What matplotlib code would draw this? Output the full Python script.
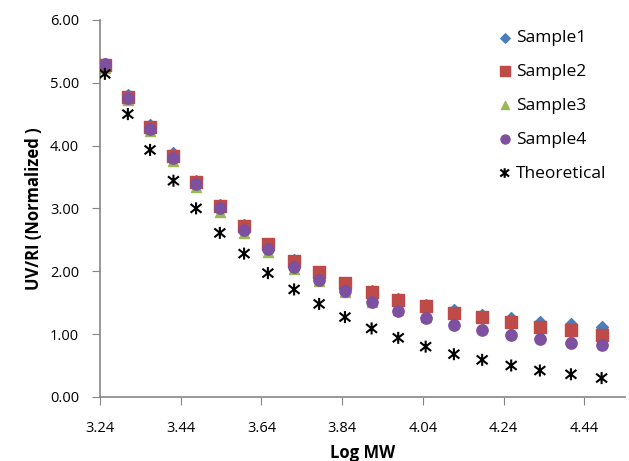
import matplotlib
matplotlib.use("Agg")
import matplotlib.pyplot as plt
from matplotlib.path import Path

plt.rcParams['font.family'] = ['Open Sans', 'DejaVu Sans']

# Log MW positions of the points
log_mw = [3.252, 3.309, 3.364, 3.422, 3.478, 3.537, 3.597, 3.656, 3.721, 3.783,
          3.847, 3.913, 3.979, 4.047, 4.117, 4.187, 4.259, 4.330, 4.407, 4.483]

sample1 = [5.30, 4.80, 4.33, 3.88, 3.44, 3.06, 2.74, 2.44, 2.18, 1.99,
           1.82, 1.68, 1.56, 1.46, 1.38, 1.31, 1.25, 1.20, 1.16, 1.12]
sample2 = [5.28, 4.77, 4.29, 3.83, 3.42, 3.04, 2.72, 2.43, 2.17, 1.98,
           1.81, 1.67, 1.55, 1.44, 1.34, 1.27, 1.19, 1.12, 1.06, 0.99]
sample3 = [5.24, 4.73, 4.23, 3.76, 3.34, 2.95, 2.61, 2.31, 2.04, 1.84,
           1.67, 1.51, 1.38, 1.27, 1.19, 1.12, 1.05, 0.99, 0.94, 0.90]
sample4 = [5.29, 4.76, 4.27, 3.80, 3.38, 3.00, 2.65, 2.35, 2.07, 1.86,
           1.68, 1.51, 1.37, 1.25, 1.15, 1.06, 0.99, 0.92, 0.86, 0.82]
theoretical = [5.14, 4.50, 3.93, 3.44, 3.00, 2.61, 2.28, 1.97, 1.71, 1.48,
               1.27, 1.09, 0.94, 0.80, 0.68, 0.59, 0.50, 0.42, 0.36, 0.30]

xticks = [3.24, 3.44, 3.64, 3.84, 4.04, 4.24, 4.44]
yticks = [0, 1, 2, 3, 4, 5, 6]

# excel style star: x with a vertical bar
star = Path([(-1, -0.8), (1, 0.8), (-1, 0.8), (1, -0.8), (0, -1.1), (0, 1.1)],
            [Path.MOVETO, Path.LINETO, Path.MOVETO, Path.LINETO, Path.MOVETO, Path.LINETO])

fig = plt.figure(figsize=(6.29, 4.61), dpi=100)
ax = fig.add_axes([0.159, 0.139, 0.834, 0.818])

ax.scatter(log_mw, sample1, marker='D', s=36, color='#4a7ebb', label='Sample1', zorder=2)
ax.scatter(log_mw, sample2, marker='s', s=66, color='#be4b48', label='Sample2', zorder=3)
ax.scatter(log_mw, sample3, marker='^', s=52, color='#98b954', label='Sample3', zorder=2.5)
ax.scatter(log_mw, sample4, marker='o', s=66, color='#7d50a0', label='Sample4', zorder=4)
ax.scatter(log_mw, theoretical, marker=star, s=75, facecolor='none', edgecolor='black',
           linewidths=1.5, label='Theoretical', zorder=5)

ax.set_xlim(3.24, 4.54)
ax.set_ylim(0, 6)
ax.set_xticks(xticks)
ax.set_xticklabels(['%.2f' % t for t in xticks])
ax.set_yticks(yticks)
ax.set_yticklabels(['%.2f' % t for t in yticks])
ax.tick_params(direction='out', length=6, color='#868686', labelsize=10.5)
ax.tick_params(axis='x', pad=11)
ax.tick_params(axis='y', pad=9)

for side in ['top', 'right']:
    ax.spines[side].set_visible(False)
for side in ['left', 'bottom']:
    ax.spines[side].set_color('#868686')
    ax.spines[side].set_linewidth(1.2)

ax.set_xlabel('Log MW', fontsize=12, fontweight='bold', labelpad=6)
ax.set_ylabel('UV/RI (Normalized )', fontsize=12, fontweight='bold', labelpad=5)

ax.legend(loc='upper left', bbox_to_anchor=(496 / 629, 1 - 30 / 461),
          bbox_transform=fig.transFigure, frameon=False, fontsize=12.5,
          handlelength=1.0, handletextpad=0.15, labelspacing=1.02,
          markerscale=0.8, borderaxespad=0, borderpad=0)

fig.savefig('out.png', dpi=100)
